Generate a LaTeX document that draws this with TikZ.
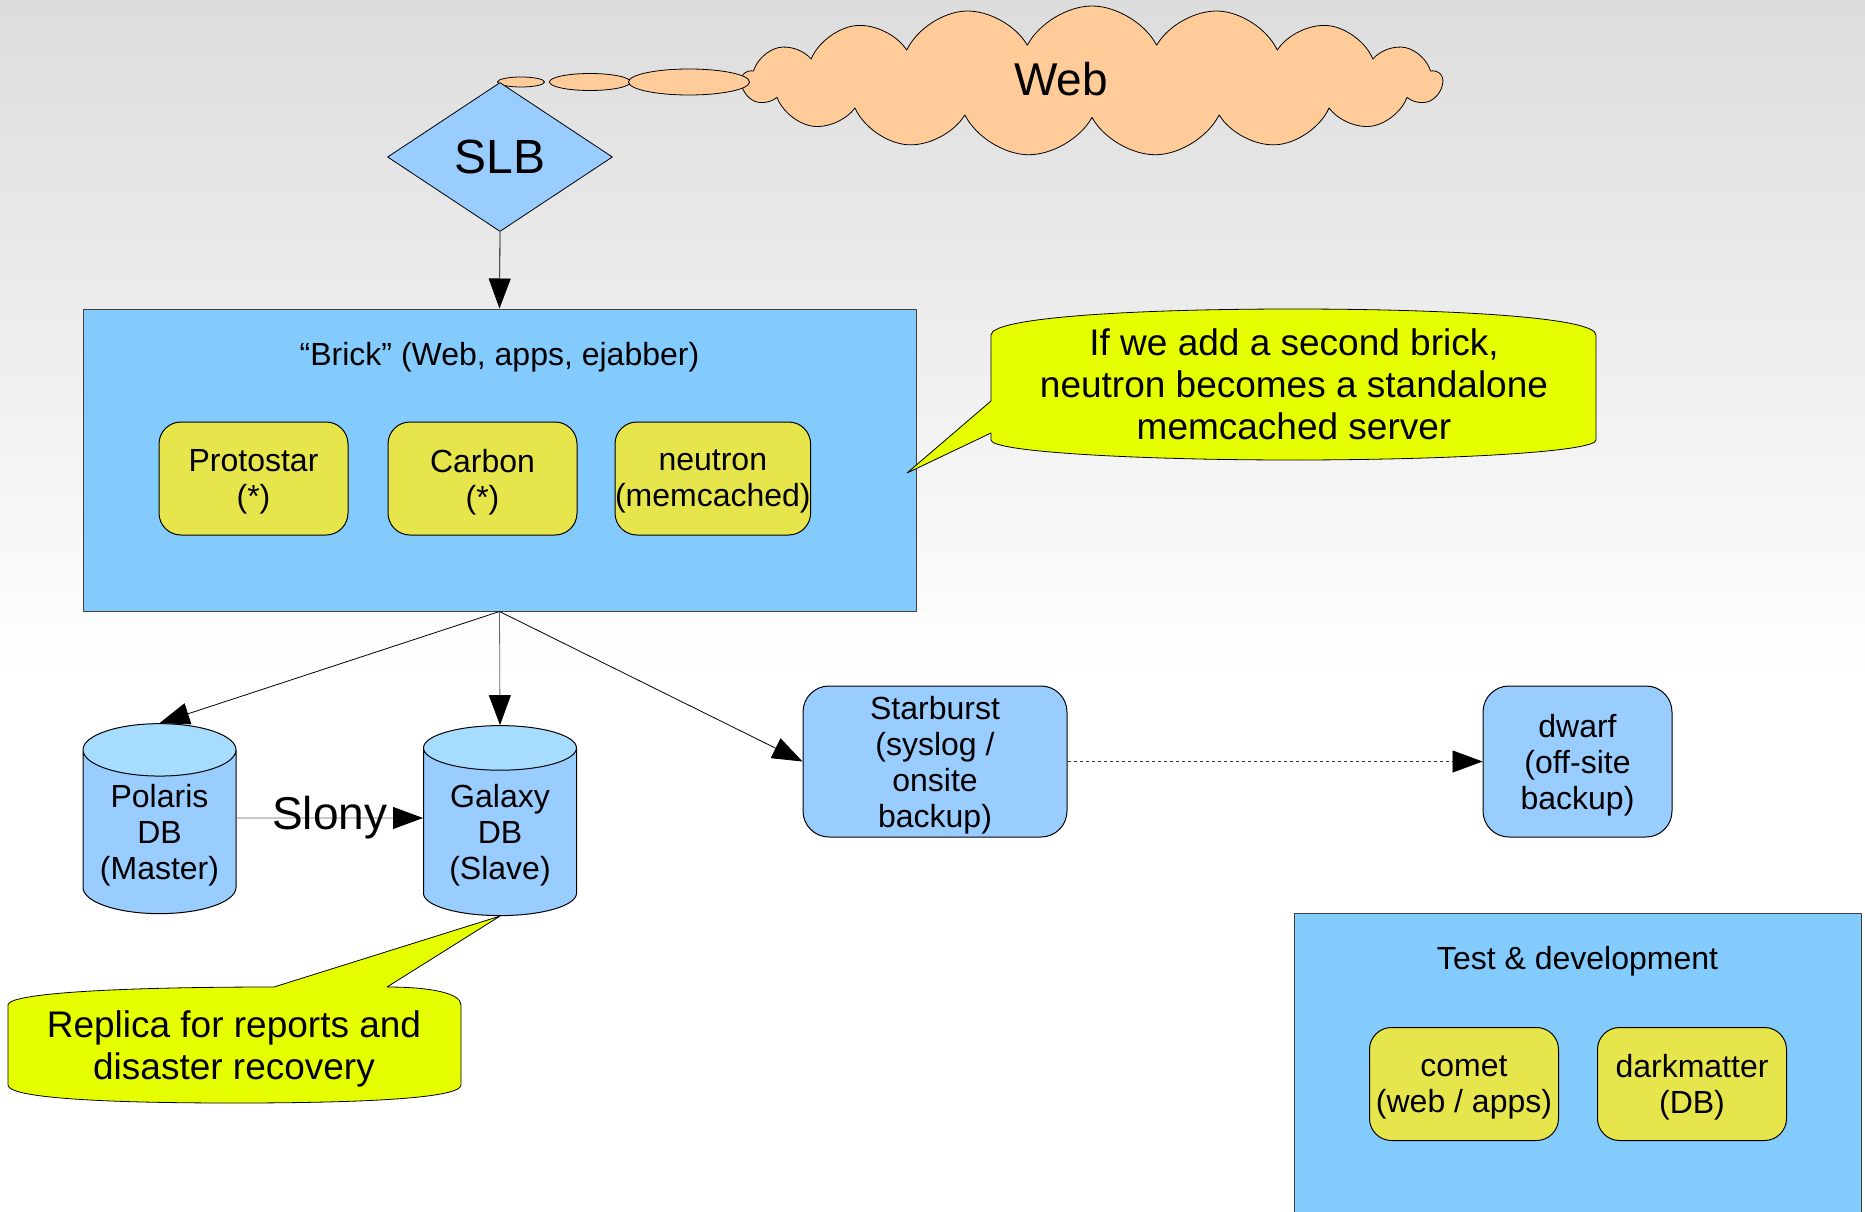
\documentclass[tikz,border=0pt]{standalone}
\usepackage{fontspec}
\setmainfont{Liberation Sans}
\usetikzlibrary{arrows.meta, shapes, positioning}
\usepackage{xcolor}
\definecolor{brickblue}{RGB}{131,202,253}
\definecolor{boxblue}{RGB}{153,204,255}
\definecolor{dbtop}{RGB}{166,221,255}
\definecolor{hostyellow}{RGB}{230,230,76}
\definecolor{noteyellow}{RGB}{230,255,0}
\definecolor{webpeach}{RGB}{255,204,153}

\begin{document}
\begin{tikzpicture}[
        line join=bevel,
        midfont/.style={font=\fontsize{32pt}{36pt}\selectfont},
        notefont/.style={font=\fontsize{37pt}{42pt}\selectfont},
        groupbox/.style={shape=rectangle, fill=brickblue, draw=black!75, line width=1pt, inner sep=0pt},
        hostbox/.style={shape=rectangle, rounded corners=22pt, fill=hostyellow, draw=black, line width=1pt, minimum width=189pt, minimum height=113pt, inner sep=0pt, align=center, text depth=-3pt, midfont},
        serverbox/.style={shape=rectangle, rounded corners=26pt, fill=boxblue, draw=black, line width=1pt, minimum height=151pt, inner sep=0pt, align=center, text depth=-3pt, midfont},
        dbnode/.style={shape=cylinder, shape border rotate=90, aspect=0.44, cylinder uses custom fill, cylinder body fill=boxblue, cylinder end fill=dbtop, draw=black, line width=1pt, minimum width=153pt, minimum height=190pt, inner sep=0pt, align=center, text depth=0pt, midfont},
        bubble/.style={shape=ellipse, fill=webpeach, draw=black, line width=0.8pt, inner sep=0pt},
        notebox/.style={fill=noteyellow, draw=black, line width=0.8pt},
        flow/.style={-{Triangle[length=30pt, width=22pt, color=black]}, line width=0.8pt}
        ]

        %% Background
        \useasboundingbox (0pt, 0pt) rectangle (1865pt, -1212pt);
        \fill[white] (0pt, 0pt) rectangle (1865pt, -1212pt);
        \shade[top color=gray!27, bottom color=white] (0pt, 0pt) rectangle (1865pt, -680pt);

        %% Web cloud and load balancer
        \node[cloud, cloud puffs=17, cloud puff arc=125, cloud ignores aspect, fill=webpeach, draw=black, line width=0.8pt, minimum width=700pt, minimum height=150pt, inner sep=0pt] (web) at (1092pt, -81pt) {};
        \node[font=\fontsize{46pt}{50pt}\selectfont] (webLabel) at (1061pt, -79pt) {Web};
        \foreach \bx/\bw/\bh/\bn in {521pt/47pt/10pt/1, 590pt/81pt/17pt/2, 689pt/121pt/26pt/3} {
            \node[bubble, minimum width=\bw, minimum height=\bh] (bubble\bn) at (\bx, -82pt) {};
        }
        \node[diamond, fill=boxblue, draw=black, line width=0.8pt, minimum width=225pt, minimum height=149pt, inner sep=0pt, font=\fontsize{48pt}{52pt}\selectfont] (slb) at (500pt, -157pt) {SLB};

        %% Brick
        \node[groupbox, minimum width=833pt, minimum height=302pt] (brick) at (499.5pt, -460pt) {};
        \node[midfont] (brickTitle) at ([yshift=-49pt]brick.north) {“Brick” (Web, apps, ejabber)};
        \node[hostbox] (protostar) at (253.5pt, -478.5pt) {Protostar\\(*)};
        \node[hostbox, right=39pt of protostar] (carbon) {Carbon\\(*)};
        \node[hostbox, right=37pt of carbon] (neutron) {neutron\\(memcached)};

        %% Databases and backup
        \node[dbnode] (polaris) at (159.5pt, -832pt) {Polaris\\DB\\(Master)};
        \node[dbnode] (galaxy) at (500pt, -832pt) {Galaxy\\DB\\(Slave)};
        \node[serverbox, minimum width=264pt] (starburst) at (935pt, -761.5pt) {Starburst\\(syslog /\\onsite\\backup)};
        \node[serverbox, minimum width=189pt] (dwarf) at (1577.5pt, -761.5pt) {dwarf\\(off-site\\backup)};

        %% Test & development
        \node[groupbox, minimum width=567pt, minimum height=330pt] (testbox) at (1577.5pt, -1078pt) {};
        \node[midfont] (testTitle) at ([yshift=-49pt]testbox.north) {Test \& development};
        \node[hostbox] (comet) at (1464pt, -1084pt) {comet\\(web / apps)};
        \node[hostbox, right=38pt of comet] (darkmatter) {darkmatter\\(DB)};

        %% Connectors
        \draw[flow] (slb.south) -- (brick.north);
        \draw[flow] (brick.south) -- (polaris.north);
        \draw[flow, black!60] (brick.south) -- (galaxy.north);
        \draw[flow] (brick.south) -- (starburst.west);
        \draw[flow, black!60] ([yshift=14pt]polaris.east) -- ([yshift=14pt]galaxy.west) node[midway, font=\fontsize{46pt}{50pt}\selectfont, text=black] {Slony};
        \draw[flow, dash pattern=on 3pt off 3pt, black!80] (starburst.east) -- (dwarf.west);

        %% Callouts
        \coordinate (brickTip) at (907pt, -473pt);
        \coordinate (replicaTip) at (galaxy.south);
        \filldraw[notebox] (991pt, -335pt) .. controls (991pt, -317pt) and (1140pt, -309pt) .. (1293pt, -309pt)
            .. controls (1446pt, -309pt) and (1596pt, -317pt) .. (1596pt, -335pt) -- (1596pt, -440pt)
            .. controls (1596pt, -452pt) and (1446pt, -460pt) .. (1293pt, -460pt)
            .. controls (1140pt, -460pt) and (991pt, -452pt) .. (991pt, -440pt)
            -- (991pt, -433pt) -- (brickTip) -- (991pt, -401pt) -- cycle;
        \node[notefont, align=center] (brickNote) at (1294pt, -384pt) {If we add a second brick,\\neutron becomes a standalone\\memcached server};
        \filldraw[notebox] (8pt, -1005pt) .. controls (8pt, -993pt) and (120pt, -987pt) .. (274pt, -987pt)
            -- (replicaTip) -- (387pt, -987pt) .. controls (430pt, -987pt) and (461pt, -993pt) .. (461pt, -1005pt)
            -- (461pt, -1085pt) .. controls (461pt, -1097pt) and (380pt, -1103pt) .. (234pt, -1103pt)
            .. controls (90pt, -1103pt) and (8pt, -1097pt) .. (8pt, -1085pt) -- cycle;
        \node[notefont, align=center] (replicaNote) at (234pt, -1049pt) {Replica for reports and\\disaster recovery};
\end{tikzpicture}
\end{document}
